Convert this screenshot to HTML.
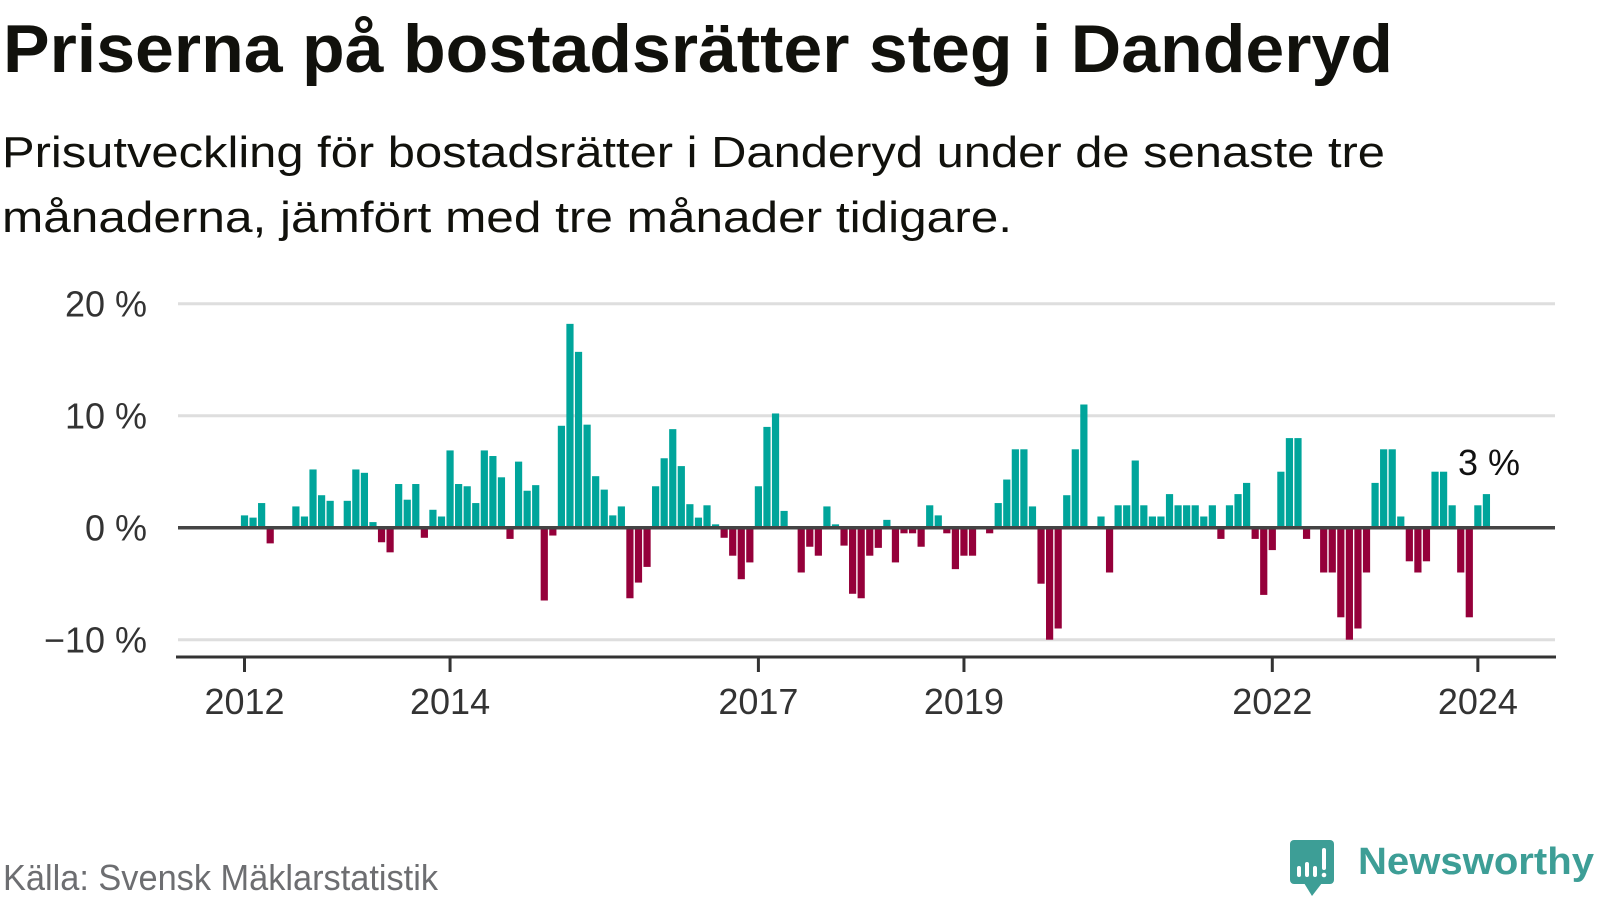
<!DOCTYPE html>
<html><head><meta charset="utf-8"><style>
html,body{margin:0;padding:0;background:#fff;}
svg{display:block;font-family:"Liberation Sans","DejaVu Sans",sans-serif;}
</style></head><body>
<svg id="chart" width="1600" height="900" viewBox="0 0 1600 900" xmlns="http://www.w3.org/2000/svg">
<rect width="1600" height="900" fill="#fff"/>
<text x="3" y="72" font-size="68" font-weight="bold" fill="#11110c" textLength="1390" lengthAdjust="spacingAndGlyphs">Priserna på bostadsrätter steg i Danderyd</text>
<text x="2" y="167" font-size="44" fill="#11110c" textLength="1383" lengthAdjust="spacingAndGlyphs">Prisutveckling för bostadsrätter i Danderyd under de senaste tre</text>
<text x="2" y="232" font-size="44" fill="#11110c" textLength="1010" lengthAdjust="spacingAndGlyphs">månaderna, jämfört med tre månader tidigare.</text>
<g id="grid"></g>
<g id="yaxis"></g>
<g id="bars"></g>
<g id="xaxis"></g>
<text x="1458" y="475" font-size="36" fill="#111">3 %</text>
<text x="3" y="890" font-size="36" fill="#6d6e71" textLength="435" lengthAdjust="spacingAndGlyphs">Källa: Svensk Mäklarstatistik</text>
<g>
  <rect x="1290" y="840" width="44" height="44" rx="4" fill="#3d9e96"/>
  <path d="M1304 883 L1312 896 L1322 883 Z" fill="#3d9e96"/>
  <rect x="1297" y="866" width="4" height="11" rx="2" fill="#fff"/>
  <rect x="1305" y="862" width="4" height="15" rx="2" fill="#fff"/>
  <rect x="1313" y="866" width="4" height="11" rx="2" fill="#fff"/>
  <rect x="1322" y="848" width="4" height="22" rx="2" fill="#fff"/>
  <circle cx="1324" cy="875" r="2.3" fill="#fff"/>
  <text x="1358" y="874" font-size="38" font-weight="bold" fill="#3d9e96" textLength="236" lengthAdjust="spacingAndGlyphs">Newsworthy</text>
</g>
</svg>
<script>
// Monthly values starting January 2012
const startYear = 2012;
const values = [
1.1,0.9,2.2,-1.4,0,0,1.9,1.0,5.2,2.9,2.4,0,
2.4,5.2,4.9,0.5,-1.3,-2.2,3.9,2.5,3.9,-0.9,1.6,1.0,
6.9,3.9,3.7,2.2,6.9,6.4,4.5,-1.0,5.9,3.3,3.8,-6.5,
-0.7,9.1,18.2,15.7,9.2,4.6,3.4,1.1,1.9,-6.3,-4.9,-3.5,
3.7,6.2,8.8,5.5,2.1,0.9,2.0,0.3,-0.9,-2.5,-4.6,-3.1,
3.7,9.0,10.2,1.5,0,-4.0,-1.7,-2.5,1.9,0.3,-1.6,-5.9,
-6.3,-2.5,-1.8,0.7,-3.1,-0.5,-0.5,-1.7,2.0,1.1,-0.5,-3.7,
-2.5,-2.5,0,-0.5,2.2,4.3,7.0,7.0,1.9,-5.0,-10.0,-9.0,
2.9,7.0,11.0,0,1.0,-4.0,2,2,6,2,1,1,
3,2,2,2,1,2,-1,2,3,4,-1,-6,
-2,5,8,8,-1,0,-4,-4,-8,-10,-9,-4,
4,7,7,1,-3,-4,-3,5,5,2,-4,-8,
2,3
];
const yTicks = [20,10,0,-10];
const yTickLabels = ["20 %","10 %","0 %","\u221210 %"];
const xTickYears = [2012,2014,2017,2019,2022,2024];

const NS = "http://www.w3.org/2000/svg";
const x0 = 244.5, monthW = 8.565;
function xScale(monthIndex){ return x0 + monthIndex*monthW; }
function yScale(v){ return 527.7 - v*11.2; }
function mk(tag, attrs, parent){
  const e = document.createElementNS(NS, tag);
  for (const k in attrs) e.setAttribute(k, attrs[k]);
  parent.appendChild(e); return e;
}
const grid = document.getElementById('grid');
const yaxis = document.getElementById('yaxis');
yTicks.forEach((t,i)=>{
  if (t !== 0) {
    const l = mk('line',{x1:178,x2:1555,y1:yScale(t),y2:yScale(t),stroke:'#dedede','stroke-width':3},grid);
    
    
  }
  const tx = mk('text',{x:147,y:yScale(t)+13,'text-anchor':'end','font-size':36,fill:'#333'},yaxis);
  tx.textContent = yTickLabels[i];
  
  
});
const bars = document.getElementById('bars');
values.forEach((v,i)=>{
  if (v === 0) return;
  const y = v>0 ? yScale(v) : yScale(0);
  const h = Math.abs(yScale(v)-yScale(0));
  const r = mk('rect',{x:xScale(i)-3.6,y:y,width:7.2,height:h,fill:v>0?'#00a59b':'#95003a'},bars);
  
  
});
const zl = mk('line',{x1:178,x2:1555,y1:yScale(0),y2:yScale(0),stroke:'#444','stroke-width':3.5},bars);


const xaxis = document.getElementById('xaxis');
const al = mk('line',{x1:176,x2:1556,y1:657,y2:657,stroke:'#333','stroke-width':3},xaxis);


xTickYears.forEach(yr=>{
  const x = xScale((yr-startYear)*12);
  const tk = mk('line',{x1:x,x2:x,y1:657,y2:672,stroke:'#333','stroke-width':3},xaxis);
  
  
  const tx = mk('text',{x:x,y:714,'text-anchor':'middle','font-size':36,fill:'#333'},xaxis);
  tx.textContent = String(yr);
  
  
});
</script>
</body></html>
